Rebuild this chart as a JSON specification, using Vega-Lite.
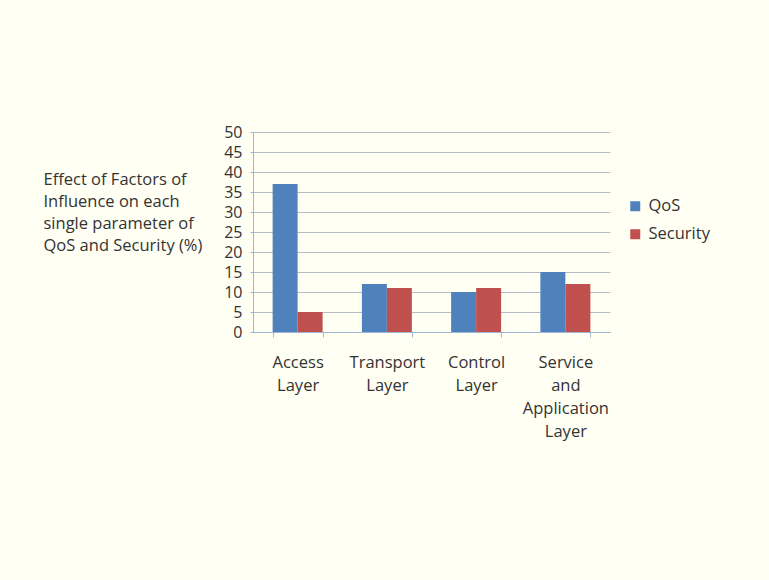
{
  "$schema": "https://vega.github.io/schema/vega-lite/v6.json",
  "autosize": "none",
  "width": 357,
  "height": 200,
  "padding": {"left": 253, "top": 132, "right": 159, "bottom": 248},
  "background": "#FFFFF3",
  "config": {
    "view": {"stroke": null},
    "font": "Open Sans"
  },
  "data": {
    "values": [
      {"layer": "Access Layer", "param": "QoS", "value": 37},
      {"layer": "Access Layer", "param": "Security", "value": 5},
      {"layer": "Transport Layer", "param": "QoS", "value": 12},
      {"layer": "Transport Layer", "param": "Security", "value": 11},
      {"layer": "Control Layer", "param": "QoS", "value": 10},
      {"layer": "Control Layer", "param": "Security", "value": 11},
      {"layer": "Service and Application Layer", "param": "QoS", "value": 15},
      {"layer": "Service and Application Layer", "param": "Security", "value": 12}
    ]
  },
  "mark": {"type": "bar"},
  "encoding": {
    "x": {
      "field": "layer",
      "type": "nominal",
      "sort": null,
      "scale": {"paddingInner": 0.44, "paddingOuter": 0.22},
      "axis": {
        "title": null,
        "labelAngle": 0,
        "labelExpr": "isValid(datum.value) ? split(datum.value, ' ') : ''",
        "labelFont": "Open Sans",
        "labelFontSize": 16.5,
        "labelColor": "#333333",
        "labelLineHeight": 23,
        "labelPadding": 17,
        "labelBaseline": "top",
        "tickBand": "extent",
        "tickSize": 5,
        "tickColor": "#9FB6D2",
        "domainColor": "#9FB6D2",
        "grid": false
      }
    },
    "xOffset": {"field": "param", "type": "nominal", "sort": ["QoS", "Security"]},
    "y": {
      "field": "value",
      "type": "quantitative",
      "scale": {"domain": [0, 50]},
      "axis": {
        "values": [0, 5, 10, 15, 20, 25, 30, 35, 40, 45, 50],
        "labelFont": "Open Sans",
        "labelFontSize": 16,
        "labelColor": "#333333",
        "labelPadding": 8,
        "tickSize": 3,
        "tickColor": "#9FB6D2",
        "domainColor": "#9FB6D2",
        "gridColor": "#B4BCC8",
        "gridWidth": 1,
        "title": ["Effect of Factors of", "Influence on each", "single parameter of", "QoS and Security (%)"],
        "titleAngle": 0,
        "titleAlign": "left",
        "titleBaseline": "alphabetic",
        "titleX": -210,
        "titleY": 52,
        "titleFont": "Open Sans",
        "titleFontSize": 16.5,
        "titleFontWeight": "normal",
        "titleColor": "#333333",
        "titleLineHeight": 22
      }
    },
    "color": {
      "field": "param",
      "type": "nominal",
      "scale": {"domain": ["QoS", "Security"], "range": ["#4F81BD", "#C0504D"]},
      "legend": {
        "title": null,
        "orient": "none",
        "legendX": 374,
        "legendY": 66,
        "symbolType": "square",
        "symbolSize": 100,
        "symbolStrokeWidth": 0,
        "labelFont": "Open Sans",
        "labelFontSize": 16.5,
        "labelColor": "#333333",
        "labelOffset": 5,
        "rowPadding": 11
      }
    }
  }
}
